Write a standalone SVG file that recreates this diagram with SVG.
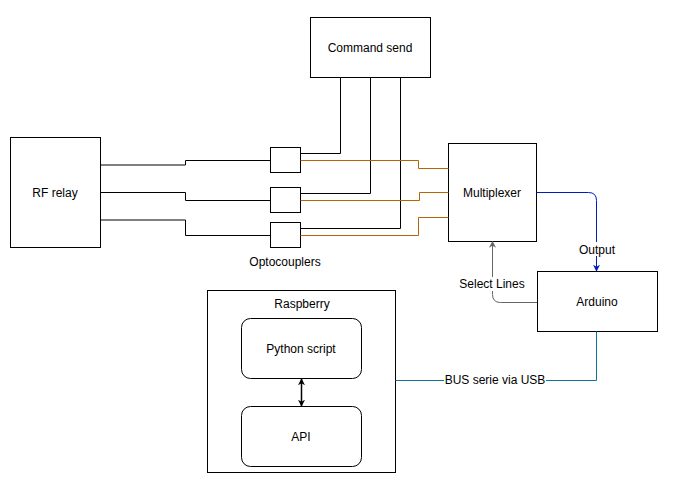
<svg xmlns="http://www.w3.org/2000/svg" width="680" height="497" viewBox="0 0 680 497">
<style>
text{font-family:"Liberation Sans",Arial,sans-serif;font-size:12px;fill:#000;text-anchor:middle}
.box{fill:#fff;stroke:#000;stroke-width:1}
.k{fill:none;stroke:#000;stroke-width:1}
.o{fill:none;stroke:#B46504;stroke-width:1}
.lb{fill:#fff;stroke:none}
</style>
<defs>
<marker id="ab" viewBox="0 0 10 10" refX="9" refY="5" markerWidth="7" markerHeight="7" orient="auto" markerUnits="userSpaceOnUse"><path d="M0,0 L10,5 L0,10 L3,5 Z" fill="#001DBC"/></marker>
<marker id="ag" viewBox="0 0 10 10" refX="9" refY="5" markerWidth="7" markerHeight="7" orient="auto" markerUnits="userSpaceOnUse"><path d="M0,0 L10,5 L0,10 L3,5 Z" fill="#666666"/></marker>
<marker id="ak" viewBox="0 0 10 10" refX="9" refY="5" markerWidth="7" markerHeight="7" orient="auto-start-reverse" markerUnits="userSpaceOnUse"><path d="M0,0 L10,5 L0,10 L3,5 Z" fill="#000"/></marker>
</defs>
<g id="rf-relay"><rect class="box" x="10.5" y="137.5" width="90" height="110"/><text x="55" y="197">RF relay</text></g>
<g id="command-send"><rect class="box" x="310.5" y="17.5" width="120" height="60"/><text x="370" y="52">Command send</text></g>
<g id="opto1"><rect class="box" x="270.5" y="147.5" width="30" height="25"/></g>
<g id="opto2"><rect class="box" x="270.5" y="187.5" width="30" height="25"/></g>
<g id="opto3"><rect class="box" x="270.5" y="222.5" width="30" height="25"/></g>
<g id="optocouplers-label"><text x="285" y="266">Optocouplers</text></g>
<g id="multiplexer"><rect class="box" x="448.5" y="143.5" width="88" height="98"/><text x="492" y="197">Multiplexer</text></g>
<g id="arduino"><rect class="box" x="537.5" y="271.5" width="120" height="60"/><text x="597" y="306">Arduino</text></g>
<g id="raspberry"><rect class="box" x="207.5" y="290.5" width="188" height="182"/><text x="302" y="308">Raspberry</text></g>
<g id="python-script"><rect class="box" x="241.5" y="318.5" width="120" height="60" rx="9"/><text x="301" y="353">Python script</text></g>
<g id="api"><rect class="box" x="241.5" y="406.5" width="120" height="60" rx="9"/><text x="301" y="441">API</text></g>
<g id="connectors">
<path class="k" d="M100,165 H185.5 V160.5 H270.5"/>
<path class="k" d="M100,192.5 H185.5 V200.5 H270.5"/>
<path class="k" d="M100,220 H185.5 V235.5 H270.5"/>
<path class="k" d="M300.5,153.5 H340.5 V77"/>
<path class="k" d="M300.5,193.5 H370.5 V77"/>
<path class="k" d="M300.5,228.5 H400.5 V77"/>
<path class="o" d="M300.5,160.5 H418.5 V168.5 H448.5"/>
<path class="o" d="M300.5,200.5 H419.5 V192.5 H448.5"/>
<path class="o" d="M300.5,235.5 H418.5 V217.5 H448.5"/>
<path d="M536.5,192.5 H588.5 Q596.5,192.5 596.5,200.5 V271" fill="none" stroke="#001DBC" stroke-width="1" marker-end="url(#ab)"/>
<path d="M537,302.5 H500.5 Q492.5,302.5 492.5,294.5 V241.5" fill="none" stroke="#666666" stroke-width="1" marker-end="url(#ag)"/>
<path d="M395.5,380.5 H596.5 V331.5" fill="none" stroke="#10739E" stroke-width="1"/>
<path d="M301.5,379 V406" fill="none" stroke="#000" stroke-width="1.5" marker-start="url(#ak)" marker-end="url(#ak)"/>
<rect class="lb" x="577" y="242" width="40" height="14"/>
<text x="597" y="254">Output</text>
<rect class="lb" x="457" y="277" width="70" height="14"/>
<text x="492" y="288">Select Lines</text>
<rect class="lb" x="444" y="373" width="102" height="14"/>
<text x="495" y="384">BUS serie via USB</text>
</g>
</svg>
